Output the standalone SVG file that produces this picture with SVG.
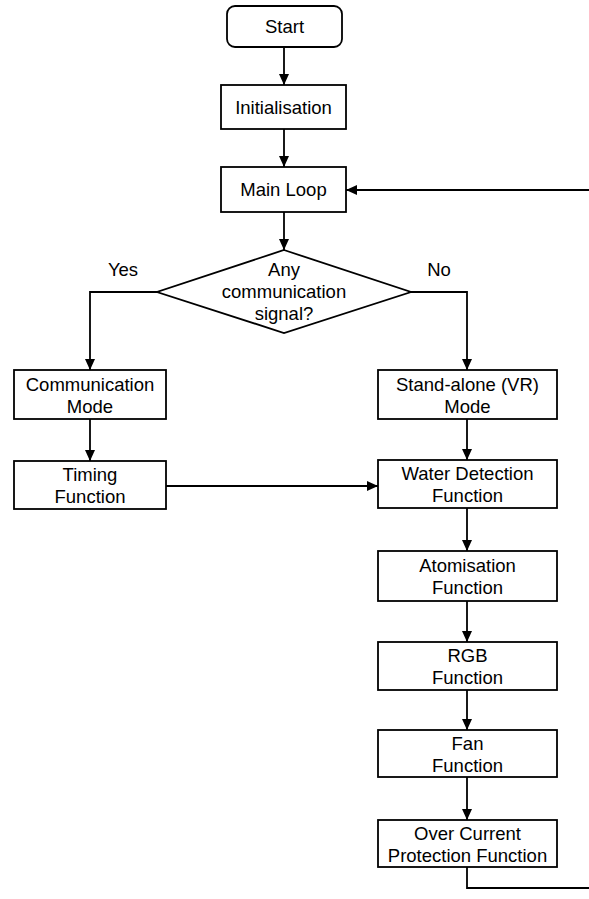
<svg xmlns="http://www.w3.org/2000/svg" width="589" height="899" viewBox="0 0 589 899">
<style>
.box{fill:#fff;stroke:#000;stroke-width:1.8}
.t{font-family:"Liberation Sans",Arial,sans-serif;font-size:18.5px;fill:#000;text-anchor:middle}
.c{fill:none;stroke:#000;stroke-width:1.8}
</style>
<defs>
<marker id="ah" markerUnits="userSpaceOnUse" markerWidth="12" markerHeight="12" viewBox="0 0 12 12" refX="11" refY="6" orient="auto">
<path d="M0,1 L11,6 L0,11 Z" fill="#000"/>
</marker>
</defs>
<g id="connectors">
<path class="c" d="M284,47 V85" marker-end="url(#ah)"/>
<path class="c" d="M284,129 V167" marker-end="url(#ah)"/>
<path class="c" d="M284,212 V250" marker-end="url(#ah)"/>
<path class="c" d="M157,292 H90 V370" marker-end="url(#ah)"/>
<path class="c" d="M411,292 H467 V370" marker-end="url(#ah)"/>
<path class="c" d="M90,419 V461" marker-end="url(#ah)"/>
<path class="c" d="M467,419 V460" marker-end="url(#ah)"/>
<path class="c" d="M166,486 H378" marker-end="url(#ah)"/>
<path class="c" d="M467,508 V551" marker-end="url(#ah)"/>
<path class="c" d="M467,601 V642" marker-end="url(#ah)"/>
<path class="c" d="M467,690 V730" marker-end="url(#ah)"/>
<path class="c" d="M467,777 V820" marker-end="url(#ah)"/>
<path class="c" d="M467,867 V888 H589"/>
<path class="c" d="M589,190 H346" marker-end="url(#ah)"/>
<text class="t" x="123" y="276">Yes</text>
<text class="t" x="439" y="276">No</text>
</g>
<g id="start"><rect class="box" x="227" y="6" width="115" height="41" rx="8"/><text class="t" x="284.5" y="33">Start</text></g>
<g id="init"><rect class="box" x="221" y="85" width="125" height="44"/><text class="t" x="283.5" y="113.5">Initialisation</text></g>
<g id="mainloop"><rect class="box" x="221" y="167" width="125" height="45"/><text class="t" x="283.5" y="196">Main Loop</text></g>
<g id="decision"><polygon class="box" points="284,250 411,292 284,333 157,292"/><text class="t" x="284" y="276">Any</text><text class="t" x="284" y="298">communication</text><text class="t" x="284" y="320">signal?</text></g>
<g id="comm"><rect class="box" x="14" y="370" width="152" height="49"/><text class="t" x="90" y="391">Communication</text><text class="t" x="90" y="413">Mode</text></g>
<g id="timing"><rect class="box" x="14" y="461" width="152" height="48"/><text class="t" x="90" y="481">Timing</text><text class="t" x="90" y="503">Function</text></g>
<g id="standalone"><rect class="box" x="378" y="370" width="179" height="49"/><text class="t" x="467.5" y="391">Stand-alone (VR)</text><text class="t" x="467.5" y="413">Mode</text></g>
<g id="water"><rect class="box" x="378" y="460" width="179" height="48"/><text class="t" x="467.5" y="480">Water Detection</text><text class="t" x="467.5" y="502">Function</text></g>
<g id="atom"><rect class="box" x="378" y="551" width="179" height="50"/><text class="t" x="467.5" y="572">Atomisation</text><text class="t" x="467.5" y="594">Function</text></g>
<g id="rgb"><rect class="box" x="378" y="642" width="179" height="48"/><text class="t" x="467.5" y="662">RGB</text><text class="t" x="467.5" y="684">Function</text></g>
<g id="fan"><rect class="box" x="378" y="730" width="179" height="47"/><text class="t" x="467.5" y="750">Fan</text><text class="t" x="467.5" y="772">Function</text></g>
<g id="ocp"><rect class="box" x="378" y="820" width="179" height="47"/><text class="t" x="467.5" y="840">Over Current</text><text class="t" x="467.5" y="862">Protection Function</text></g>
</svg>
